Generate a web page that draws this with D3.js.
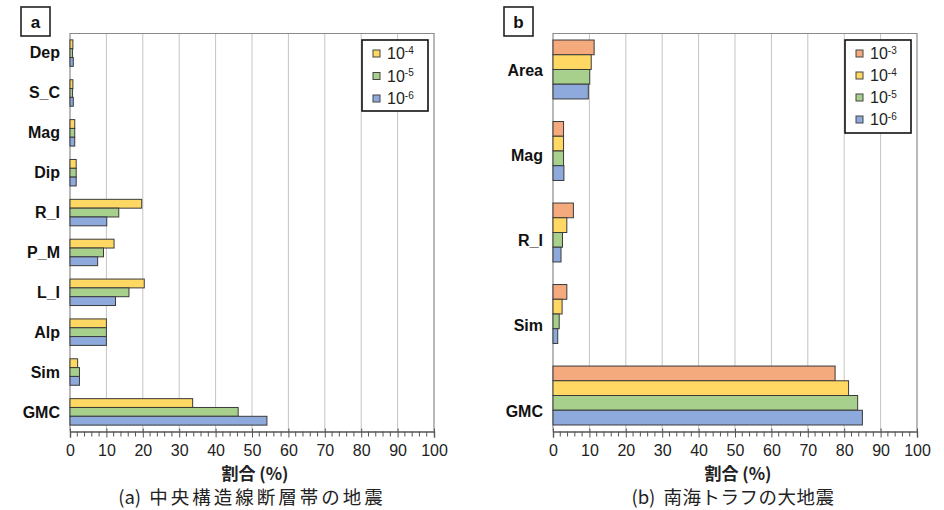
<!DOCTYPE html>
<html>
<head>
<meta charset="utf-8">
<script src="https://cdn.jsdelivr.net/npm/d3@7"></script>
<style>
  html, body { margin: 0; padding: 0; background: #fff; }
  svg { display: block; }
</style>
</head>
<body>
<svg id="chart" width="944" height="510"></svg>
<script>
// Panel (a): contribution ratio per factor, three exceedance probabilities
const catsA = ["Dep", "S_C", "Mag", "Dip", "R_I", "P_M", "L_I", "Alp", "Sim", "GMC"];
const expA = [-4, -5, -6];
const a_e4 = [0.8, 0.8, 1.3, 1.7, 19.7, 12.1, 20.4, 10.0, 2.1, 33.7];
const a_e5 = [0.7, 0.7, 1.3, 1.7, 13.4, 9.2, 16.2, 10.0, 2.6, 46.2];
const a_e6 = [0.9, 0.9, 1.3, 1.7, 10.1, 7.6, 12.5, 10.0, 2.6, 54.1];

// Panel (b): four exceedance probabilities
const catsB = ["Area", "Mag", "R_I", "Sim", "GMC"];
const expB = [-3, -4, -5, -6];
const b_e3 = [11.3, 2.9, 5.6, 3.8, 77.5];
const b_e4 = [10.5, 2.9, 3.8, 2.5, 81.2];
const b_e5 = [10.1, 2.9, 2.6, 1.7, 83.7];
const b_e6 = [9.7, 3.0, 2.2, 1.3, 85.0];

const tickValues = [0, 10, 20, 30, 40, 50, 60, 70, 80, 90, 100];
const axisTitle = "割合 (%)";

const colorByExp = { "-3": "#F4AA7C", "-4": "#FFD863", "-5": "#A8D08D", "-6": "#8EA9DB" };
const latin = "'Liberation Sans', Arial, sans-serif";
const cjk = "'Noto Sans CJK JP', 'Noto Sans', sans-serif";

const svg = d3.select("#chart");
svg.append("rect").attr("width", 944).attr("height", 510).attr("fill", "#fff");

function drawPanel(cfg) {
  const g = svg.append("g");
  const x = d3.scaleLinear().domain([0, 100]).range([cfg.x0, cfg.x1]);
  const y = d3.scaleBand().domain(cfg.cats).range([cfg.top, cfg.bottom])
    .paddingInner(cfg.padIn).paddingOuter(cfg.padOut);
  const sub = d3.scaleBand().domain(cfg.exps.map(String)).range([0, y.bandwidth()]);
  const labelY = d3.scalePoint().domain(cfg.cats).range(cfg.labelRange);

  // vertical gridlines
  g.append("g").selectAll("line").data(tickValues.slice(1, -1)).join("line")
    .attr("x1", d => x(d)).attr("x2", d => x(d))
    .attr("y1", cfg.top).attr("y2", cfg.bottom)
    .attr("stroke", "#c4c4c4").attr("stroke-width", 1);

  // plot frame (top, right, left)
  g.append("path")
    .attr("d", `M${x(0)},${cfg.bottom}V${cfg.top}H${x(100)}V${cfg.bottom}`)
    .attr("fill", "none").attr("stroke", "#8a8a8a").attr("stroke-width", 1.2);

  // bars
  const rows = cfg.cats.map((c, i) => ({ cat: c, vals: cfg.series.map((s, k) => ({ exp: cfg.exps[k], v: s[i] })) }));
  g.append("g").selectAll("g").data(rows).join("g")
    .attr("transform", d => `translate(0,${y(d.cat)})`)
    .selectAll("rect").data(d => d.vals).join("rect")
      .attr("x", x(0))
      .attr("y", d => sub(String(d.exp)))
      .attr("width", d => x(d.v) - x(0))
      .attr("height", sub.bandwidth())
      .attr("fill", d => colorByExp[d.exp])
      .attr("stroke", "#3a3a3a").attr("stroke-width", 1);

  // bottom axis with minor ticks
  const ax = g.append("g").attr("transform", `translate(0,${cfg.bottom})`);
  ax.append("g").selectAll("line").data(d3.range(0, 101, 2).filter(v => v % 10 !== 0)).join("line")
    .attr("x1", d => x(d)).attr("x2", d => x(d)).attr("y1", 0).attr("y2", 5)
    .attr("stroke", "#555").attr("stroke-width", 1);
  ax.call(d3.axisBottom(x).tickValues(tickValues).tickSize(6).tickPadding(7))
    .call(s => s.select(".domain").attr("stroke", "#555").attr("stroke-width", 1.4))
    .call(s => s.selectAll(".tick line").attr("stroke", "#555").attr("y1", -3).attr("y2", 6))
    .call(s => s.selectAll(".tick text").attr("font-family", latin).attr("font-size", 16).attr("fill", "#222"));

  // category labels
  g.append("g").selectAll("text").data(cfg.cats).join("text")
    .attr("x", cfg.labelX).attr("y", d => labelY(d))
    .attr("dy", "0.35em").attr("text-anchor", "end")
    .attr("font-family", latin).attr("font-weight", "bold").attr("font-size", 16).attr("fill", "#111")
    .text(d => d);

  // legend
  const lg = g.append("g");
  lg.append("rect").attr("x", cfg.legend.x).attr("y", cfg.legend.y)
    .attr("width", cfg.legend.w).attr("height", cfg.legend.h)
    .attr("fill", "#fff").attr("stroke", "#111").attr("stroke-width", 1.6);
  const items = lg.selectAll("g").data(cfg.exps).join("g")
    .attr("transform", (d, i) => `translate(${cfg.legend.x + 11},${cfg.legend.y + 13.5 + i * cfg.legend.step})`);
  items.append("rect").attr("x", 0).attr("y", -3.5).attr("width", 7).attr("height", 7)
    .attr("fill", d => colorByExp[d]).attr("stroke", "#444").attr("stroke-width", 1);
  const lt = items.append("text").attr("x", 14).attr("y", 0).attr("dy", "0.36em")
    .attr("font-family", latin).attr("font-size", 16).attr("fill", "#222");
  lt.append("tspan").text("10");
  lt.append("tspan").attr("dy", "-0.55em").attr("font-size", 10).text(d => String(d));

  // panel tag
  g.append("rect").attr("x", cfg.tag.x).attr("y", 7).attr("width", 29).attr("height", 29)
    .attr("fill", "#fff").attr("stroke", "#222").attr("stroke-width", 1.6);
  g.append("text").attr("x", cfg.tag.x + 14.5).attr("y", 21.5).attr("dy", "0.36em")
    .attr("text-anchor", "middle").attr("font-family", latin).attr("font-weight", "bold")
    .attr("font-size", 17).attr("fill", "#111").text(cfg.tag.text);

  // axis title
  g.append("text").attr("x", (cfg.x0 + cfg.x1) / 2 + 3).attr("y", 480)
    .attr("text-anchor", "middle").attr("font-family", cjk).attr("font-weight", "bold")
    .attr("font-size", 17).attr("fill", "#222").text(axisTitle);

  // caption: prefix and title, the title tracked a little wider
  const cap = g.append("text").attr("x", cfg.captionX).attr("y", 504)
    .attr("text-anchor", "middle").attr("font-family", cjk)
    .attr("font-size", 18.5).attr("fill", "#222");
  cap.append("tspan").text(cfg.captionPrefix + "\u00a0\u00a0");
  cap.append("tspan").attr("letter-spacing", cfg.captionSpacing).text(cfg.caption);
}

drawPanel({
  cats: catsA, exps: expA, series: [a_e4, a_e5, a_e6],
  x0: 70, x1: 434, top: 33.5, bottom: 431.5,
  padIn: 0.336, padOut: 0.16,
  labelRange: [52, 412], labelX: 60,
  legend: { x: 362, y: 40, w: 66, h: 71, step: 22.5 },
  tag: { x: 21, text: "a" },
  captionX: 252, captionSpacing: 3, captionPrefix: "(a)", caption: "中央構造線断層帯の地震"
});

drawPanel({
  cats: catsB, exps: expB, series: [b_e3, b_e4, b_e5, b_e6],
  x0: 553, x1: 917, top: 33.5, bottom: 431.5,
  padIn: 0.277, padOut: 0.08,
  labelRange: [70, 411], labelX: 543,
  legend: { x: 845, y: 40, w: 66, h: 93, step: 22 },
  tag: { x: 504, text: "b" },
  captionX: 733, captionSpacing: 0.5, captionPrefix: "(b)", caption: "南海トラフの大地震"
});
</script>
</body>
</html>
